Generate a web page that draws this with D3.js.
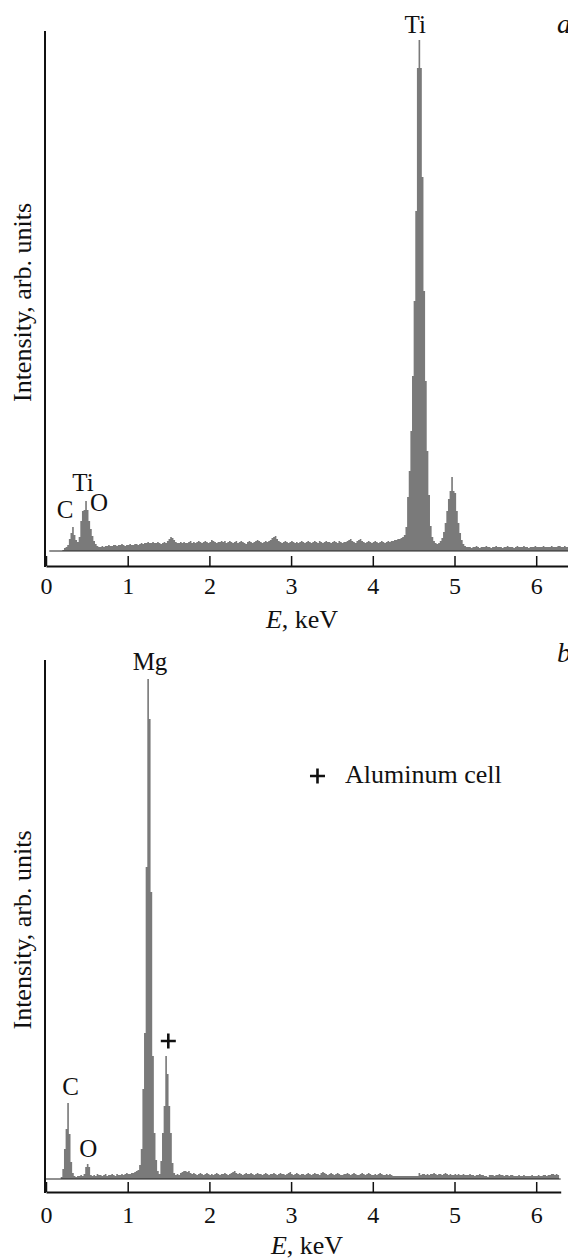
<!DOCTYPE html>
<html>
<head>
<meta charset="utf-8">
<script src="https://cdn.jsdelivr.net/npm/d3@7"></script>
<style>
body { margin: 0; background: #fff; }
svg text { font-family: "Liberation Serif", "DejaVu Serif", "Times New Roman", Times, serif !important; fill: #111; }
</style>
</head>
<body>
<div id="chart"></div>
<script>
// spectrum bins: energy of first bin and bin width (keV)
var e_start = 0.16;
var e_step = 0.02;

// panel a counts, one row = 0.5 keV
var counts_a = [].concat(
    [0,0,1,3,4,6,12,18,24,16,11,9,14,30,40,41,50,41,30,22,15,10,7,5,4],
    [4,5,4,5,5,6,5,5,6,6,5,6,6,7,6,5,6,6,7,6,6,7,7,6,7],
    [8,7,8,8,9,8,8,9,8,8,9,8,7,8,9,8,10,12,14,13,11,9,8,8,9],
    [8,9,8,8,9,10,8,9,8,9,10,9,8,9,10,9,8,9,11,10,9,8,9,9,10],
    [9,10,8,9,10,9,8,9,10,8,9,10,9,8,7,9,10,9,8,9,10,11,10,9,8],
    [9,10,9,10,11,13,14,15,12,10,9,8,9,10,9,8,9,10,9,8,9,8,9,10,9],
    [8,9,10,9,8,9,10,9,8,10,9,8,9,10,9,9,8,9,10,9,8,10,9,8,9],
    [9,10,11,12,10,9,8,10,11,12,10,9,8,9,10,9,8,9,10,9,8,9,10,9,8],
    [9,10,9,10,10,11,11,12,12,13,14,16,24,54,80,120,175,250,340,483,511,483,374,260,170],
    [100,56,25,14,10,8,7,8,10,13,19,28,40,52,60,74,60,58,40,28,18,11,7,5,4],
    [4,4,3,4,4,5,4,3,4,4,4,5,4,4,3,4,4,5,4,4,4,3,4,4,5],
    [4,4,4,3,4,5,4,4,4,5,4,4,3,4,4,4,5,4,4,4,4,5,4,4,4],
    [4,5,4,4,4,5,5,4,4,5,4,4]
);

// panel b counts
var counts_b = [].concat(
    [0,2,10,30,50,76,45,17,6,3,2,3,3,4,3,5,12,15,12,4,3,4,3,5,4],
    [4,3,4,5,3,4,4,5,4,3,5,4,4,5,4,5,6,5,5,6,6,7,8,9,14],
    [30,90,146,312,500,460,287,123,46,19,8,5,18,46,73,123,105,73,46,16,6,4,5,4,6],
    [7,8,8,7,8,6,5,6,5,4,5,6,5,4,5,6,5,4,5,4,5,6,5,4,5],
    [5,6,5,4,5,6,7,8,6,5,6,5,4,5,6,5,5,6,5,4,5,6,5,5,4],
    [5,6,5,4,5,5,6,5,4,5,6,5,5,4,5,6,7,5,4,5,6,5,4,5,5],
    [4,5,6,5,4,5,6,5,5,4,6,7,6,5,4,5,6,5,4,5,6,5,4,4,5],
    [5,6,5,4,5,6,5,4,4,5,6,5,4,5,6,5,4,4,5,4,5,6,5,4,4],
    [5,4,5,4,3,3,3,3,3,3,3,3,3,3,3,3,3,3,3,3,6,4,5,5,4],
    [5,4,5,5,6,5,4,5,5,4,5,6,5,4,5,4,4,5,4,5,4,4,5,4,4],
    [4,5,4,4,3,4,4,5,4,4,3,3,2,4,4,4,3,4,4,5,4,4,3,4,4],
    [3,4,4,3,3,3,4,3,3,4,3,3,3,3,4,3,3,3,4,3,3,4,4,3,4],
    [4,5,5,4,5,4]
);

var tick_values = [0, 1, 2, 3, 4, 5, 6];

// peak labels: text, energy (keV), intensity of label baseline
var peaks_a = [
    {t: 'Ti', e: 4.52, v: 518},
    {t: 'C', e: 0.233, v: 33},
    {t: 'Ti', e: 0.453, v: 60},
    {t: 'O', e: 0.649, v: 40}
];
var peaks_b = [
    {t: 'Mg', e: 1.273, v: 509},
    {t: 'C', e: 0.30, v: 84},
    {t: 'O', e: 0.518, v: 22}
];
// aluminum cell markers (panel b)
var marks_b = [{e: 1.497, v: 138}];
var legend_b = {mark_e: 3.323, mark_v: 403, text_e: 3.66, text_v: 396, text: 'Aluminum cell'};

var serif = '"Liberation Serif", "DejaVu Serif", "Times New Roman", Times, serif';

var svg = d3.select('#chart').append('svg')
    .attr('width', 568).attr('height', 1258)
    .attr('font-family', serif);

function draw_panel(p) {
    var x = d3.scaleLinear().domain([0, p.e_max]).range([46, 46 + 81.7 * p.e_max]);
    var y = d3.scaleLinear().domain([0, p.v_max]).range([p.base, p.top]);
    var g = svg.append('g');

    // bins to step points, last bin closed with its own value
    var pts = p.counts.map(function(d, i) { return [e_start + i * e_step, d]; });
    pts.push([e_start + p.counts.length * e_step, p.counts[p.counts.length - 1]]);

    var area = d3.area().curve(d3.curveStepAfter)
        .x(function(d) { return x(d[0]); })
        .y0(y(0))
        .y1(function(d) { return y(d[1]); });

    g.append('path').datum(pts)
        .attr('d', area)
        .attr('fill', '#7a7a7a');

    // thin baseline under the spectrum
    g.append('line')
        .attr('x1', x(p.base_from)).attr('x2', x(p.e_max))
        .attr('y1', y(0)).attr('y2', y(0))
        .attr('stroke', '#222').attr('stroke-width', 1.2);

    // x axis, ticks pointing up
    var xaxis = d3.axisBottom(x)
        .tickValues(tick_values)
        .tickSizeInner(-10).tickSizeOuter(0)
        .tickPadding(p.pad)
        .tickFormat(d3.format('d'));
    var ax = g.append('g')
        .attr('transform', 'translate(0,' + p.axis + ')')
        .call(xaxis)
        .attr('font-family', serif);
    ax.select('.domain').attr('stroke', '#111').attr('stroke-width', 2);
    ax.selectAll('.tick line').attr('stroke', '#111').attr('stroke-width', 1.5);
    ax.selectAll('.tick text').attr('font-size', 24).attr('font-family', serif);

    // y axis, plain line
    g.append('line')
        .attr('x1', x(0) - 1).attr('x2', x(0) - 1)
        .attr('y1', p.top).attr('y2', p.axis + 1)
        .attr('stroke', '#111').attr('stroke-width', 2);

    // axis titles
    g.append('text')
        .attr('transform', 'translate(31,' + ((p.top + p.axis) / 2 + 4) + ') rotate(-90)')
        .attr('text-anchor', 'middle')
        .attr('font-size', 26)
        .text('Intensity, arb. units');

    var xt = g.append('text')
        .attr('x', p.xlabel_x).attr('y', p.xlabel_y)
        .attr('text-anchor', 'middle')
        .attr('font-size', 26);
    xt.append('tspan').attr('font-style', 'italic').text('E');
    xt.append('tspan').text(', keV');

    // panel letter
    g.append('text')
        .attr('x', 557).attr('y', p.top + 2)
        .attr('font-size', 28).attr('font-style', 'italic')
        .text(p.letter);

    // peak labels
    g.selectAll('.peak')
        .data(p.peaks).enter().append('text')
        .attr('class', 'peak')
        .attr('x', function(d) { return x(d.e); })
        .attr('y', function(d) { return y(d.v); })
        .attr('text-anchor', 'middle')
        .attr('font-size', 25)
        .text(function(d) { return d.t; });

    return {x: x, y: y, g: g};
}

function plus(g, cx, cy) {
    g.append('path')
        .attr('d', 'M' + (cx - 7.5) + ',' + cy + 'H' + (cx + 7.5) + 'M' + cx + ',' + (cy - 7.5) + 'V' + (cy + 7.5))
        .attr('stroke', '#111').attr('stroke-width', 2.6).attr('fill', 'none');
}

draw_panel({
    counts: counts_a, peaks: peaks_a, letter: 'a',
    e_max: 6.4, v_max: 520, base: 551, top: 31, axis: 566, pad: 11,
    base_from: 0.04, xlabel_x: 302, xlabel_y: 628
});

var pb = draw_panel({
    counts: counts_b, peaks: peaks_b, letter: 'b',
    e_max: 6.3, v_max: 519, base: 1179, top: 660, axis: 1192, pad: 14,
    base_from: 0, xlabel_x: 307, xlabel_y: 1254
});

// aluminum cell marks and legend
marks_b.forEach(function(d) { plus(pb.g, pb.x(d.e), pb.y(d.v)); });
plus(pb.g, pb.x(legend_b.mark_e), pb.y(legend_b.mark_v));
pb.g.append('text')
    .attr('x', pb.x(legend_b.text_e)).attr('y', pb.y(legend_b.text_v))
    .attr('font-size', 26)
    .text(legend_b.text);
</script>
</body>
</html>
